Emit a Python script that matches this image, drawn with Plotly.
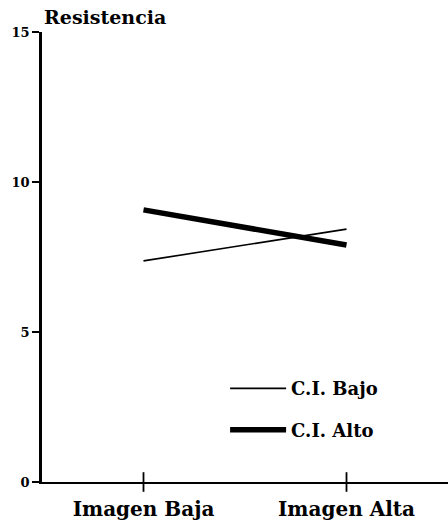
import plotly.graph_objects as go

categories = ["Imagen Baja", "Imagen Alta"]
ci_bajo = [7.37, 8.43]
ci_alto = [9.07, 7.90]
y_ticks = [0, 5, 10, 15]
series_names = ["C.I. Bajo", "C.I. Alto"]

FONT = "DejaVu Serif"
xpos = list(range(len(categories)))

fig = go.Figure()
fig.add_trace(go.Scatter(x=xpos, y=ci_bajo, mode="lines", name=series_names[0],
                         line=dict(color="black", width=1.6), legendgroup="a"))
fig.add_trace(go.Scatter(x=xpos, y=ci_alto, mode="lines", name=series_names[1],
                         line=dict(color="black", width=5.5), legendgroup="b"))
# crossing category ticks on the x axis
fig.add_trace(go.Scatter(x=xpos, y=[0] * len(xpos), mode="markers", showlegend=False,
                         cliponaxis=False, hoverinfo="skip",
                         marker=dict(symbol="line-ns", size=14,
                                     line=dict(color="black", width=1.8))))

fig.update_layout(
    width=448, height=521,
    margin=dict(l=42, r=0, t=32, b=39),
    paper_bgcolor="white", plot_bgcolor="white",
    font=dict(family=FONT, color="black"),
    showlegend=True,
    legend=dict(x=0.451, y=0.2485, xanchor="left", yanchor="top",
                font=dict(family=FONT, size=18, weight="bold"),
                itemwidth=56, tracegroupgap=15, bgcolor="rgba(0,0,0,0)"),
    annotations=[dict(text="<b>Resistencia</b>", x=0, y=1, xref="paper", yref="paper",
                      xanchor="left", yanchor="bottom", yshift=2, showarrow=False,
                      font=dict(family=FONT, size=19))],
)
fig.update_xaxes(range=[-0.5, 1.5], tickmode="array", tickvals=xpos, ticktext=categories,
                 showline=True, linecolor="black", linewidth=2, ticks="", showgrid=False,
                 zeroline=False, ticklabelstandoff=8,
                 tickfont=dict(family=FONT, size=20, weight="bold"))
fig.update_yaxes(range=[0, 15], tickmode="array", tickvals=y_ticks,
                 showline=True, linecolor="black", linewidth=2.5, ticks="outside",
                 ticklen=7, tickwidth=2, tickcolor="black", showgrid=False, zeroline=False,
                 tickfont=dict(family=FONT, size=13, weight="bold"))

fig.write_html("out.html", config={"displayModeBar": False},
               post_script="document.body.style.margin='0';document.body.style.overflow='hidden';")
